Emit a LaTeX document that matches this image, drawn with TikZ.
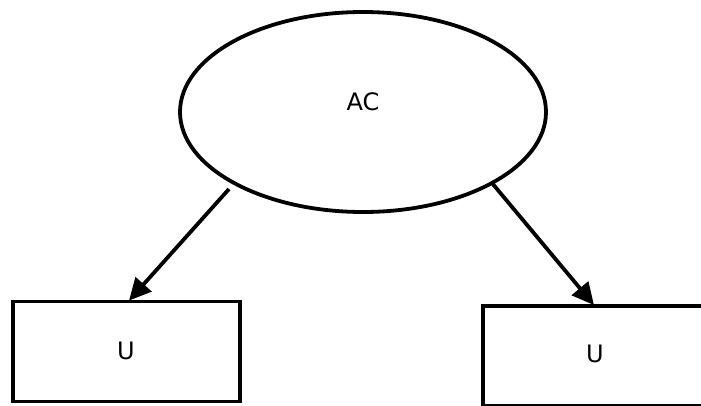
\documentclass[tikz,border=0pt]{standalone}
\usepackage{fontspec}
\setmainfont{DejaVu Sans}
\usetikzlibrary{shapes.geometric,arrows.meta}
\begin{document}
\begin{tikzpicture}[x=1pt,y=-1pt,
  line width=3.8pt,
  lbl/.style={font=\fontsize{24}{28}\selectfont, inner sep=0pt},
  box/.style={draw, rectangle, minimum width=227pt, minimum height=100pt, inner sep=0pt},
  arr/.style={-{Triangle[length=22pt,width=21pt]}, line width=3.8pt}]
\clip (0,0) rectangle (701,405);
\node[draw, ellipse, minimum width=366pt, minimum height=200pt, inner sep=0pt] (ac) at (363,112) {};
\node[lbl] (actext) at (363,102) {AC};
\node[box] (u1) at (126.5,351.5) {};
\node[lbl] (u1text) at (126,351) {U};
\node[box] (u2) at (596.5,356) {};
\node[lbl] (u2text) at (595,354) {U};
\coordinate (s1) at (229,189);
\coordinate (s2) at (492,183);
\draw[arr] (s1) -- ([xshift=2.5pt,yshift=-1pt]u1.north);
\draw[arr] (s2) -- ([xshift=-2.5pt,yshift=-1pt]u2.north);
\end{tikzpicture}
\end{document}
